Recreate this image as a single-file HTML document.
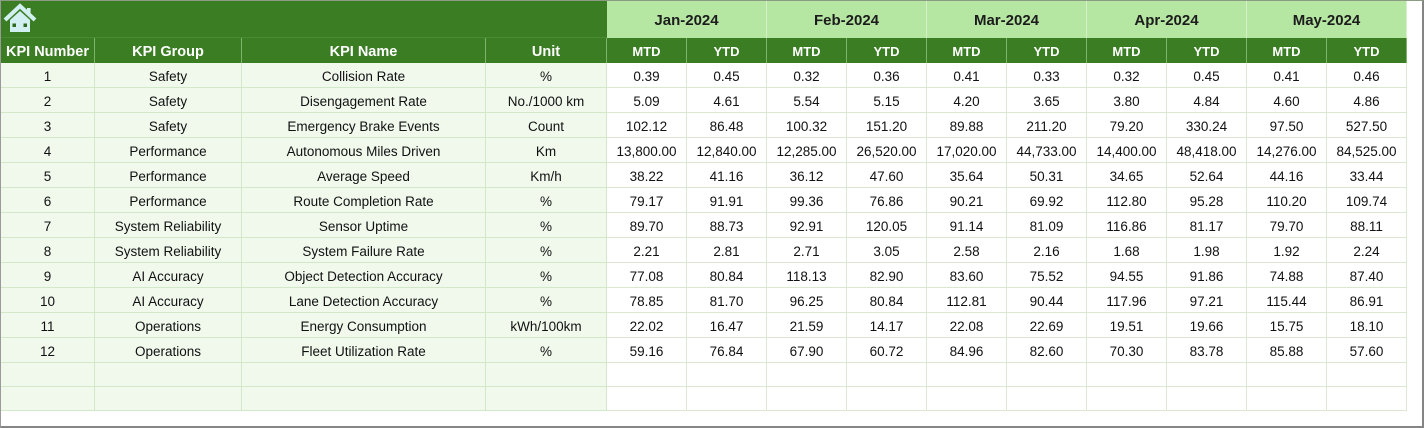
<!DOCTYPE html>
<html><head><meta charset="utf-8">
<style>
html,body{margin:0;padding:0;background:#fff;}
body{width:1424px;height:428px;position:relative;overflow:hidden;font-family:"Liberation Sans",Arial,sans-serif;}
.frame{position:absolute;left:0;top:0;width:1424px;height:428px;box-sizing:border-box;border-left:1px solid #9a9a9a;border-top:1px solid #8c9c84;border-right:2px solid #858585;border-bottom:2px solid #858585;}
.g{position:absolute;left:1px;top:1px;display:grid;grid-template-columns:94px 147px 244px 121px repeat(10,80px);grid-template-rows:37px 25px repeat(12,25px) 24px 24px;}
.g>div{box-sizing:border-box;display:flex;align-items:center;justify-content:center;white-space:nowrap;font-size:13.5px;color:#111;padding-top:2px;}
.top{grid-column:1 / span 4;background:#3b7d23;justify-content:flex-start!important;border-bottom:1px solid #4a8a33;padding-top:0!important;}
.m{grid-column:span 2;background:#b5e6a2;font-weight:bold;font-size:15px!important;color:#1c1c1c!important;border-right:1px solid #d6f0ca;padding-top:1px!important;}
.h{background:#3b7d23;color:#fff!important;font-weight:bold;font-size:14.5px!important;border-right:1px solid #7db36a;}
.hm{background:#3b7d23;color:#fff!important;font-weight:bold;font-size:13px!important;border-right:1px solid #7db36a;}
.l{background:#f1f9ed;border-right:1px solid #d3e8c8;border-bottom:1px solid #d3e8c8;}
.w{background:#fff;border-right:1px solid #dbe8d1;border-bottom:1px solid #dbe8d1;}
</style></head><body>
<div class="frame"></div>
<div class="g">
<div class="top"><svg width="36" height="36" viewBox="0 0 36 36" style="margin-left:1px;margin-top:-1px"><path d="M3 19 L18 5 L33 19" fill="none" stroke="#d2eff2" stroke-width="4" stroke-linejoin="miter"/><rect x="25" y="7" width="3.6" height="7" fill="#d2eff2"/><path d="M8 19 L18 10 L28 19 L28 31 L8 31 Z" fill="#d2eff2"/><rect x="10.5" y="22.5" width="3.5" height="3.5" fill="#2f6a1c"/><rect x="21.5" y="22.5" width="3.5" height="3.5" fill="#2f6a1c"/></svg></div>
<div class="m">Jan-2024</div><div class="m">Feb-2024</div><div class="m">Mar-2024</div><div class="m">Apr-2024</div><div class="m">May-2024</div>
<div class="h">KPI Number</div><div class="h">KPI Group</div><div class="h">KPI Name</div><div class="h">Unit</div>
<div class="hm">MTD</div><div class="hm">YTD</div><div class="hm">MTD</div><div class="hm">YTD</div><div class="hm">MTD</div><div class="hm">YTD</div><div class="hm">MTD</div><div class="hm">YTD</div><div class="hm">MTD</div><div class="hm">YTD</div>

<div class="l">1</div><div class="l">Safety</div><div class="l">Collision Rate</div><div class="l">%</div><div class="w">0.39</div><div class="w">0.45</div><div class="w">0.32</div><div class="w">0.36</div><div class="w">0.41</div><div class="w">0.33</div><div class="w">0.32</div><div class="w">0.45</div><div class="w">0.41</div><div class="w">0.46</div>
<div class="l">2</div><div class="l">Safety</div><div class="l">Disengagement Rate</div><div class="l">No./1000 km</div><div class="w">5.09</div><div class="w">4.61</div><div class="w">5.54</div><div class="w">5.15</div><div class="w">4.20</div><div class="w">3.65</div><div class="w">3.80</div><div class="w">4.84</div><div class="w">4.60</div><div class="w">4.86</div>
<div class="l">3</div><div class="l">Safety</div><div class="l">Emergency Brake Events</div><div class="l">Count</div><div class="w">102.12</div><div class="w">86.48</div><div class="w">100.32</div><div class="w">151.20</div><div class="w">89.88</div><div class="w">211.20</div><div class="w">79.20</div><div class="w">330.24</div><div class="w">97.50</div><div class="w">527.50</div>
<div class="l">4</div><div class="l">Performance</div><div class="l">Autonomous Miles Driven</div><div class="l">Km</div><div class="w">13,800.00</div><div class="w">12,840.00</div><div class="w">12,285.00</div><div class="w">26,520.00</div><div class="w">17,020.00</div><div class="w">44,733.00</div><div class="w">14,400.00</div><div class="w">48,418.00</div><div class="w">14,276.00</div><div class="w">84,525.00</div>
<div class="l">5</div><div class="l">Performance</div><div class="l">Average Speed</div><div class="l">Km/h</div><div class="w">38.22</div><div class="w">41.16</div><div class="w">36.12</div><div class="w">47.60</div><div class="w">35.64</div><div class="w">50.31</div><div class="w">34.65</div><div class="w">52.64</div><div class="w">44.16</div><div class="w">33.44</div>
<div class="l">6</div><div class="l">Performance</div><div class="l">Route Completion Rate</div><div class="l">%</div><div class="w">79.17</div><div class="w">91.91</div><div class="w">99.36</div><div class="w">76.86</div><div class="w">90.21</div><div class="w">69.92</div><div class="w">112.80</div><div class="w">95.28</div><div class="w">110.20</div><div class="w">109.74</div>
<div class="l">7</div><div class="l">System Reliability</div><div class="l">Sensor Uptime</div><div class="l">%</div><div class="w">89.70</div><div class="w">88.73</div><div class="w">92.91</div><div class="w">120.05</div><div class="w">91.14</div><div class="w">81.09</div><div class="w">116.86</div><div class="w">81.17</div><div class="w">79.70</div><div class="w">88.11</div>
<div class="l">8</div><div class="l">System Reliability</div><div class="l">System Failure Rate</div><div class="l">%</div><div class="w">2.21</div><div class="w">2.81</div><div class="w">2.71</div><div class="w">3.05</div><div class="w">2.58</div><div class="w">2.16</div><div class="w">1.68</div><div class="w">1.98</div><div class="w">1.92</div><div class="w">2.24</div>
<div class="l">9</div><div class="l">AI Accuracy</div><div class="l">Object Detection Accuracy</div><div class="l">%</div><div class="w">77.08</div><div class="w">80.84</div><div class="w">118.13</div><div class="w">82.90</div><div class="w">83.60</div><div class="w">75.52</div><div class="w">94.55</div><div class="w">91.86</div><div class="w">74.88</div><div class="w">87.40</div>
<div class="l">10</div><div class="l">AI Accuracy</div><div class="l">Lane Detection Accuracy</div><div class="l">%</div><div class="w">78.85</div><div class="w">81.70</div><div class="w">96.25</div><div class="w">80.84</div><div class="w">112.81</div><div class="w">90.44</div><div class="w">117.96</div><div class="w">97.21</div><div class="w">115.44</div><div class="w">86.91</div>
<div class="l">11</div><div class="l">Operations</div><div class="l">Energy Consumption</div><div class="l">kWh/100km</div><div class="w">22.02</div><div class="w">16.47</div><div class="w">21.59</div><div class="w">14.17</div><div class="w">22.08</div><div class="w">22.69</div><div class="w">19.51</div><div class="w">19.66</div><div class="w">15.75</div><div class="w">18.10</div>
<div class="l">12</div><div class="l">Operations</div><div class="l">Fleet Utilization Rate</div><div class="l">%</div><div class="w">59.16</div><div class="w">76.84</div><div class="w">67.90</div><div class="w">60.72</div><div class="w">84.96</div><div class="w">82.60</div><div class="w">70.30</div><div class="w">83.78</div><div class="w">85.88</div><div class="w">57.60</div>
<div class="l"></div><div class="l"></div><div class="l"></div><div class="l"></div><div class="w"></div><div class="w"></div><div class="w"></div><div class="w"></div><div class="w"></div><div class="w"></div><div class="w"></div><div class="w"></div><div class="w"></div><div class="w"></div>
<div class="l"></div><div class="l"></div><div class="l"></div><div class="l"></div><div class="w"></div><div class="w"></div><div class="w"></div><div class="w"></div><div class="w"></div><div class="w"></div><div class="w"></div><div class="w"></div><div class="w"></div><div class="w"></div>
</div>
</body></html>
